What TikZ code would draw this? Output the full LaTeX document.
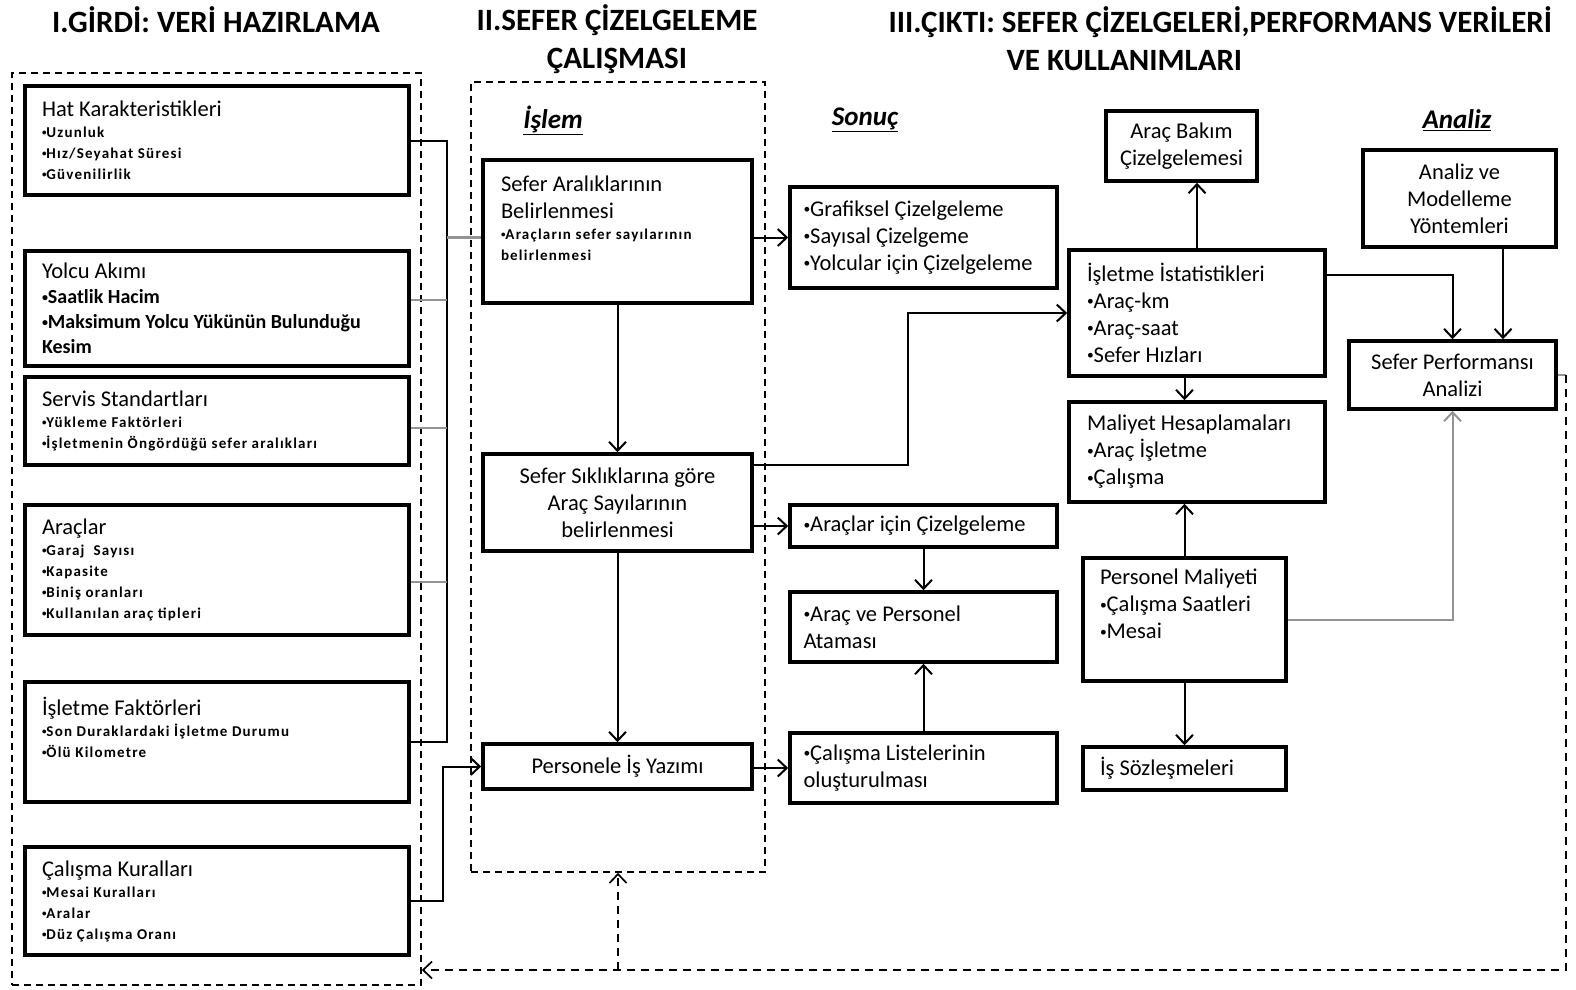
\documentclass[tikz,border=0pt]{standalone}
\usepackage{fontspec}
\setmainfont{Carlito}
\newfontfamily\lsfamily[LetterSpace=8]{Carlito}
\usetikzlibrary{arrows.meta}

\newcommand{\bxfont}{\fontsize{22.5}{27}\selectfont}
\newcommand{\lsfont}{\lsfamily\fontsize{15}{21}\selectfont\bfseries}
\newcommand{\ylfont}{\fontsize{20}{25}\selectfont\bfseries}
\newcommand{\bslkfont}{\fontsize{31}{38}\selectfont\bfseries}
\newcommand{\etiket}[1]{{\fontsize{27}{30}\selectfont\bfseries\itshape\underline{#1}}}
\newcommand{\mad}{\raisebox{0.12em}{\scalebox{0.6}{•}}}

\tikzset{
  kutu/.style={draw, line width=3.6pt, inner sep=0pt, font=\bxfont},
  boyut/.style 2 args={minimum width=#1pt, minimum height=#2pt},
  solkutu/.style={kutu, align=flush left, text width=#1pt},
  ortakutu/.style={kutu, align=center},
  grup/.style={draw, line width=1.6pt, dash pattern=on 7pt off 5pt, inner sep=0pt},
  bag/.style={line width=2pt},
  gribag/.style={line width=2.2pt, gray!85},
  ok/.style={line width=2pt, -{Straight Barb[length=9pt,width=17pt]}},
  geri/.style={line width=1.7pt, dash pattern=on 8pt off 6pt},
}

\begin{document}
\begin{tikzpicture}[x=1pt,y=-1pt]
  \useasboundingbox (0,0) rectangle (1576,989);

  % basliklar
  \node[font=\bslkfont] (b1) at (216,20) {I.GİRDİ: VERİ HAZIRLAMA};
  \node[font=\bslkfont, align=center] (b2) at (617,39) {II.SEFER ÇİZELGELEME\\ÇALIŞMASI};
  \node[font=\bslkfont, align=left, anchor=west] (b3) at (885,39)
    {III.ÇIKTI: SEFER ÇİZELGELERİ,PERFORMANS VERİLERİ\\\hspace*{118pt}VE KULLANIMLARI};
  \node (e1) at (553,120) {\etiket{İşlem}};
  \node (e2) at (865,120) {\etiket{Sonuç}};
  \node (e3) at (1457,120) {\etiket{Analiz}};

  % gruplar
  \node[grup, boyut={409}{912}] (girdi) at (216.5,529) {};
  \node[grup, boyut={294}{790}] (islem) at (618,477) {};

  % I. girdi kutulari
  \node[solkutu=350, boyut={384}{109}] (hat) at (217,140.5)
    {Hat Karakteristikleri\par{\lsfont \mad Uzunluk\\\mad Hız/Seyahat Süresi\\\mad Güvenilirlik\par}};
  \node[solkutu=350, boyut={384}{115}] (yolcu) at (217,308.5)
    {Yolcu Akımı\par{\ylfont \mad Saatlik Hacim\\\mad Maksimum Yolcu Yükünün Bulunduğu\\Kesim\par}};
  \node[solkutu=350, boyut={384}{88}] (servis) at (217,421)
    {Servis Standartları\par{\lsfont \mad Yükleme Faktörleri\\\mad İşletmenin Öngördüğü sefer aralıkları\par}};
  \node[solkutu=350, boyut={384}{130}] (araclar) at (217,570)
    {Araçlar\par{\lsfont \mad Garaj~ Sayısı\\\mad Kapasite\\\mad Biniş oranları\\\mad Kullanılan araç tipleri\par}};
  \node[solkutu=350, boyut={384}{120}] (isletmef) at (217,742)
    {İşletme Faktörleri\par{\lsfont \mad Son Duraklardaki İşletme Durumu\\\mad Ölü Kilometre\par}\rule{0pt}{28pt}};
  \node[solkutu=350, boyut={384}{108}] (calismak) at (217,901)
    {Çalışma Kuralları\par{\lsfont \mad Mesai Kuralları\\\mad Aralar\\\mad Düz Çalışma Oranı\par}};

  % II. islem
  \node[solkutu=233, boyut={269}{143}] (aralik) at (617.5,231.5)
    {Sefer Aralıklarının\\Belirlenmesi\par{\lsfont \mad Araçların sefer sayılarının\\belirlenmesi\par}\rule{0pt}{18pt}};
  \node[ortakutu, boyut={269}{97}] (siklik) at (617.5,502.5)
    {Sefer Sıklıklarına göre\\Araç Sayılarının\\belirlenmesi};
  \node[ortakutu, boyut={269}{45}] (personele) at (617.5,766.5) {Personele İş Yazımı};

  % sonuc
  \node[solkutu=240, boyut={267}{101}] (grafik) at (923.5,237.5)
    {\mad Grafiksel Çizelgeleme\\\mad Sayısal Çizelgeme\\\mad Yolcular için Çizelgeleme};
  \node[solkutu=240, boyut={267}{42}] (aracciz) at (923.5,526) {\mad Araçlar için Çizelgeleme};
  \node[solkutu=240, boyut={267}{70}] (atama) at (923.5,627) {\mad Araç ve Personel\\Ataması};
  \node[solkutu=240, boyut={267}{70}] (liste) at (923.5,768) {\mad Çalışma Listelerinin\\oluşturulması};

  % III. cikti
  \node[ortakutu, boyut={151}{70}] (bakim) at (1181.5,146) {Araç Bakım\\Çizelgelemesi};
  \node[solkutu=220, boyut={256}{126}] (istat) at (1197,313)
    {İşletme İstatistikleri\\\mad Araç-km\\\mad Araç-saat\\\mad Sefer Hızları};
  \node[solkutu=220, boyut={256}{100}] (maliyet) at (1197,452)
    {Maliyet Hesaplamaları\\\mad Araç İşletme\\\mad Çalışma};
  \node[solkutu=169, boyut={203}{123}] (persmal) at (1184.5,619.5)
    {Personel Maliyeti\\\mad Çalışma Saatleri\\\mad Mesai\par\rule{0pt}{30pt}};
  \node[solkutu=169, boyut={203}{43}] (sozlesme) at (1184.5,768.5) {İş Sözleşmeleri};
  \node[ortakutu, boyut={193}{97}] (modelleme) at (1459.5,198.5) {Analiz ve\\Modelleme\\Yöntemleri};
  \node[ortakutu, boyut={207}{68}] (performans) at (1452.5,375) {Sefer Performansı\\Analizi};

  % girdi baglantilari
  \coordinate (bus) at (447,0);
  \draw[bag] (hat.east) -| (bus |- isletmef.east) -- (isletmef.east);
  \draw[gribag] ([yshift=8.5pt]yolcu.east) -- ([yshift=8.5pt]yolcu.east -| bus);
  \draw[gribag] ([yshift=-7pt]servis.east) -- ([yshift=-7pt]servis.east -| bus);
  \draw[gribag] ([yshift=-12pt]araclar.east) -- ([yshift=-12pt]araclar.east -| bus);
  \draw[gribag] (bus |- grafik.west) -- (grafik.west -| aralik.west);
  \draw[ok] (calismak.east) -| ([xshift=-38pt]personele.west) -- (personele.west);

  % islem akisi
  \draw[ok] (aralik) -- (siklik);
  \draw[ok] (siklik) -- (personele);
  \draw[ok] (grafik.west -| aralik.east) -- (grafik.west);
  \draw[ok] (aracciz.west -| siklik.east) -- (aracciz.west);
  \draw[ok] (liste.west -| personele.east) -- (liste.west);
  \draw[ok] (aracciz) -- (atama);
  \draw[ok] (liste) -- (atama);
  \draw[ok] ([yshift=37.5pt]siklik.east) -| ([xshift=-159pt]istat.west) -- (istat.west);

  % cikti akisi
  \draw[ok] ([xshift=15.5pt]bakim.south |- istat.north) -- ([xshift=15.5pt]bakim.south);
  \draw[ok] (istat.south -| persmal) -- (maliyet.north -| persmal);
  \draw[ok] (persmal.north) -- (maliyet.south -| persmal);
  \draw[ok] (persmal) -- (sozlesme);
  \draw[ok] ([xshift=43.5pt]modelleme.south) -- ([xshift=43.5pt]modelleme.south |- performans.north);
  \draw[ok] ([yshift=38pt]istat.east) -| (performans.north);
  \draw[ok, gray!85] (persmal.east) -| (performans.south);

  % geri besleme
  \coordinate (donus) at (1566,970);
  \draw[gribag, line width=1.7pt] (performans.east) -- (performans.east -| donus);
  \draw[geri, -{Straight Barb[length=9pt,width=17pt]}] (performans.east -| donus) -- (donus) -- (girdi.east |- donus);
  \draw[geri, -{Straight Barb[length=9pt,width=17pt]}] (islem.south |- donus) -- (islem.south);
\end{tikzpicture}
\end{document}
